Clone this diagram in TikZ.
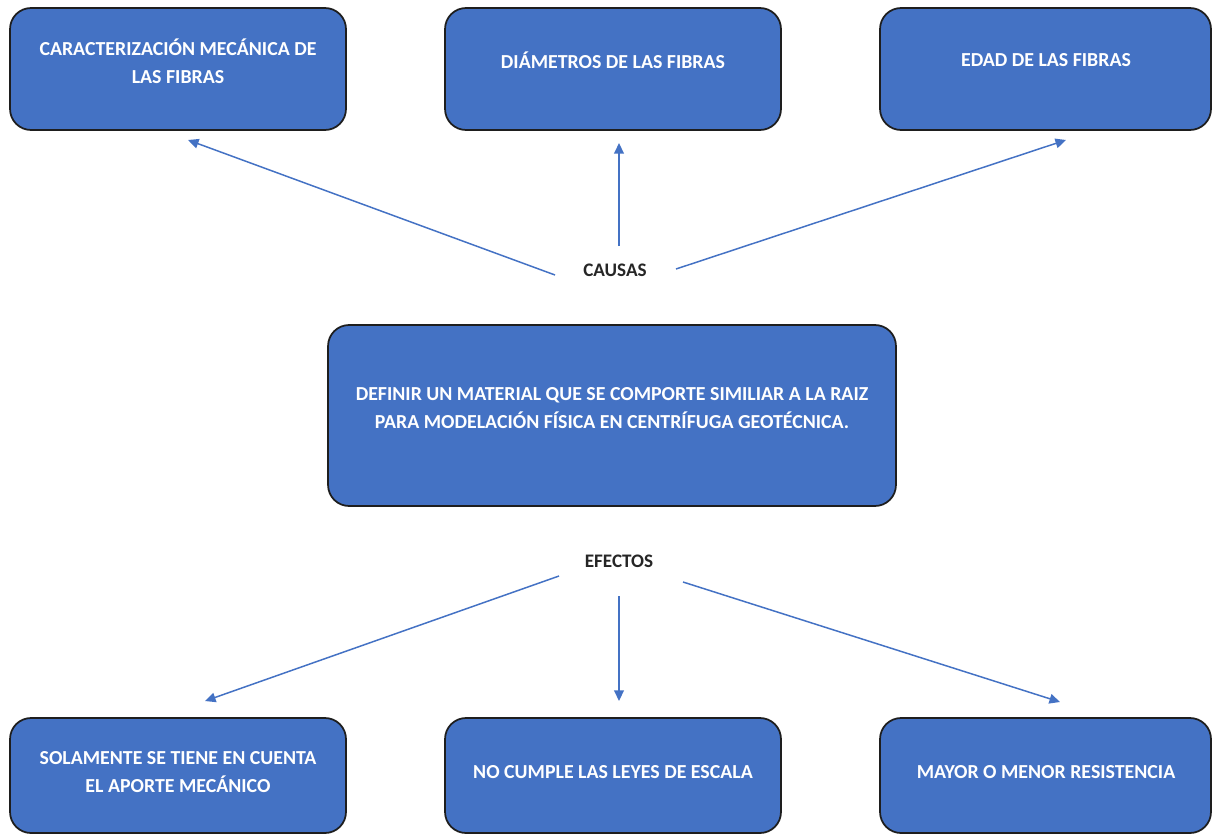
\documentclass[tikz,border=0pt]{standalone}
\usepackage{fontspec}
\setmainfont{Carlito}
\usetikzlibrary{arrows.meta}

\definecolor{azul}{HTML}{4472C4}
\definecolor{borde}{HTML}{1E1E1E}

\tikzset{
    caja/.style={draw=borde, line width=1pt, fill=azul, rounded corners=0.42cm,
        minimum width=6.72cm, minimum height=2.44cm, inner sep=0pt},
    textocaja/.style={text=white, align=center, inner sep=0pt,
        font=\bfseries\fontsize{11.3}{15.9}\selectfont},
    etiqueta/.style={text=black!85, inner sep=0pt,
        font=\bfseries\fontsize{10.9}{13}\selectfont},
    flecha/.style={draw=azul, line width=0.85pt,
        -{Triangle[length=6pt,width=5.5pt]}}
}

\begin{document}
\begin{tikzpicture}[x=0.02cm, y=-0.02cm]
    \useasboundingbox (0,0) rectangle (1212,835);
    % cajas de causas
    \node[caja] (causa1) at (178,69) {};
    \node[caja] (causa2) at (613,69) {};
    \node[caja, minimum width=6.62cm] (causa3) at (1045.5,69) {};
    \node[textocaja] (tcausa1) at (178,61) {CARACTERIZACIÓN MECÁNICA DE\\LAS FIBRAS};
    \node[textocaja] (tcausa2) at (613,60) {DIÁMETROS DE LAS FIBRAS};
    \node[textocaja] (tcausa3) at (1046,60) {EDAD DE LAS FIBRAS};
    % problema central
    \node[caja, minimum width=11.36cm, minimum height=3.62cm] (problema) at (612,415.5) {};
    \node[textocaja] (tproblema) at (612,408.5)
        {DEFINIR UN MATERIAL QUE SE COMPORTE SIMILIAR A LA RAIZ\\PARA MODELACIÓN FÍSICA EN CENTRÍFUGA GEOTÉCNICA.};
    % cajas de efectos
    \node[caja, minimum height=2.3cm] (efecto1) at (178,775.5) {};
    \node[caja, minimum height=2.3cm] (efecto2) at (613,775.5) {};
    \node[caja, minimum height=2.3cm, minimum width=6.62cm] (efecto3) at (1045.5,775.5) {};
    \node[textocaja] (tefecto1) at (178,772) {SOLAMENTE SE TIENE EN CUENTA\\EL APORTE MECÁNICO};
    \node[textocaja] (tefecto2) at (613,772) {NO CUMPLE LAS LEYES DE ESCALA};
    \node[textocaja] (tefecto3) at (1046,772) {MAYOR O MENOR RESISTENCIA};
    % etiquetas
    \node[etiqueta] (causas) at (615,270) {CAUSAS};
    \node[etiqueta] (efectos) at (619,561) {EFECTOS};
    % extremos de las flechas
    \coordinate (ca1) at (555,275);
    \coordinate (ca2) at (619,246);
    \coordinate (ca3) at (676,269);
    \coordinate (pc1) at (188,140);
    \coordinate (pc2) at (619,143);
    \coordinate (pc3) at (1066,140);
    \coordinate (ef1) at (559,576);
    \coordinate (ef2) at (619,596);
    \coordinate (ef3) at (683,582);
    \coordinate (pe1) at (205,701);
    \coordinate (pe2) at (619,701);
    \coordinate (pe3) at (1060,702);
    \foreach \i in {1,2,3}
        \draw[flecha] (ca\i) -- (pc\i);
    \foreach \i in {1,2,3}
        \draw[flecha] (ef\i) -- (pe\i);
\end{tikzpicture}
\end{document}
